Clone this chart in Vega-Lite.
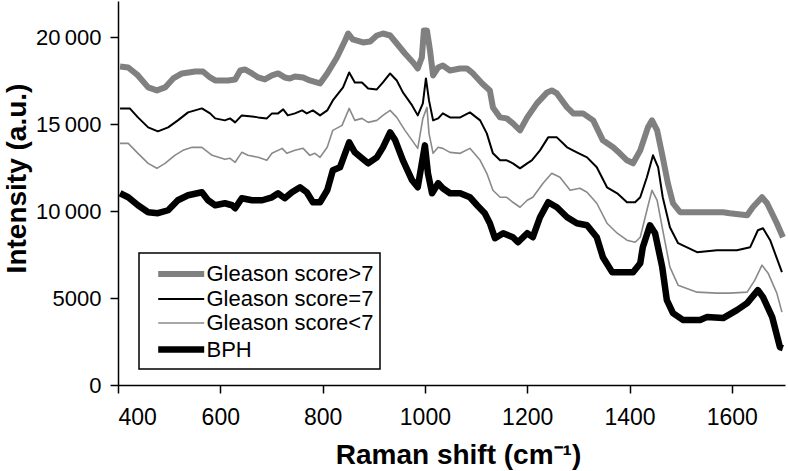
{
  "$schema": "https://vega.github.io/schema/vega-lite/v6.json",
  "width": 667,
  "height": 384,
  "autosize": {"type": "none"},
  "padding": {"left": 118, "top": 1, "right": 3, "bottom": 86},
  "background": "white",
  "config": {
    "view": {"stroke": null},
    "font": "Liberation Sans",
    "axis": {"domainColor": "black", "domainWidth": 1.5, "tickColor": "black", "tickWidth": 1.5, "tickSize": 8, "labelColor": "black", "labelFontSize": 22, "labelFont": "Liberation Sans", "titleFont": "Liberation Sans", "titleFontSize": 28, "titleFontWeight": "bold", "titleColor": "black", "grid": false}
  },
  "data": {"values": [
    {"series":"Gleason score>7","x":404,"y":18330},{"series":"Gleason score>7","x":420,"y":18275},{"series":"Gleason score>7","x":439,"y":17816},{"series":"Gleason score>7","x":459,"y":17126},{"series":"Gleason score>7","x":476,"y":16954},{"series":"Gleason score>7","x":492,"y":17126},{"series":"Gleason score>7","x":508,"y":17643},{"series":"Gleason score>7","x":525,"y":17931},{"series":"Gleason score>7","x":551,"y":18046},{"series":"Gleason score>7","x":566,"y":18046},{"series":"Gleason score>7","x":580,"y":17701},{"series":"Gleason score>7","x":590,"y":17528},{"series":"Gleason score>7","x":615,"y":17528},{"series":"Gleason score>7","x":629,"y":17586},{"series":"Gleason score>7","x":639,"y":18103},{"series":"Gleason score>7","x":648,"y":18160},{"series":"Gleason score>7","x":662,"y":17931},{"series":"Gleason score>7","x":674,"y":17701},{"series":"Gleason score>7","x":687,"y":17586},{"series":"Gleason score>7","x":701,"y":17816},{"series":"Gleason score>7","x":713,"y":17931},{"series":"Gleason score>7","x":726,"y":17701},{"series":"Gleason score>7","x":736,"y":17643},{"series":"Gleason score>7","x":746,"y":17758},{"series":"Gleason score>7","x":762,"y":17701},{"series":"Gleason score>7","x":775,"y":17528},{"series":"Gleason score>7","x":795,"y":17356},{"series":"Gleason score>7","x":809,"y":17931},{"series":"Gleason score>7","x":828,"y":18850},{"series":"Gleason score>7","x":844,"y":19827},{"series":"Gleason score>7","x":850,"y":20229},{"series":"Gleason score>7","x":859,"y":19885},{"series":"Gleason score>7","x":879,"y":19712},{"series":"Gleason score>7","x":893,"y":19770},{"series":"Gleason score>7","x":906,"y":20115},{"series":"Gleason score>7","x":918,"y":20229},{"series":"Gleason score>7","x":932,"y":20115},{"series":"Gleason score>7","x":945,"y":19655},{"series":"Gleason score>7","x":961,"y":19080},{"series":"Gleason score>7","x":977,"y":18563},{"series":"Gleason score>7","x":986,"y":18218},{"series":"Gleason score>7","x":994,"y":18850},{"series":"Gleason score>7","x":998,"y":20402},{"series":"Gleason score>7","x":1004,"y":20402},{"series":"Gleason score>7","x":1010,"y":19252},{"series":"Gleason score>7","x":1016,"y":17816},{"series":"Gleason score>7","x":1026,"y":18275},{"series":"Gleason score>7","x":1035,"y":18390},{"series":"Gleason score>7","x":1049,"y":18103},{"series":"Gleason score>7","x":1069,"y":18218},{"series":"Gleason score>7","x":1082,"y":18218},{"series":"Gleason score>7","x":1094,"y":17931},{"series":"Gleason score>7","x":1112,"y":17356},{"series":"Gleason score>7","x":1127,"y":16954},{"series":"Gleason score>7","x":1133,"y":15977},{"series":"Gleason score>7","x":1147,"y":15402},{"series":"Gleason score>7","x":1160,"y":15345},{"series":"Gleason score>7","x":1172,"y":15057},{"series":"Gleason score>7","x":1186,"y":14655},{"series":"Gleason score>7","x":1200,"y":15402},{"series":"Gleason score>7","x":1219,"y":16207},{"series":"Gleason score>7","x":1239,"y":16839},{"series":"Gleason score>7","x":1248,"y":16954},{"series":"Gleason score>7","x":1258,"y":16782},{"series":"Gleason score>7","x":1278,"y":15977},{"series":"Gleason score>7","x":1290,"y":15632},{"series":"Gleason score>7","x":1309,"y":15632},{"series":"Gleason score>7","x":1329,"y":15230},{"series":"Gleason score>7","x":1348,"y":14080},{"series":"Gleason score>7","x":1368,"y":13678},{"series":"Gleason score>7","x":1381,"y":13333},{"series":"Gleason score>7","x":1395,"y":12931},{"series":"Gleason score>7","x":1407,"y":12758},{"series":"Gleason score>7","x":1421,"y":13505},{"series":"Gleason score>7","x":1436,"y":14827},{"series":"Gleason score>7","x":1444,"y":15230},{"series":"Gleason score>7","x":1454,"y":14655},{"series":"Gleason score>7","x":1465,"y":13103},{"series":"Gleason score>7","x":1475,"y":11609},{"series":"Gleason score>7","x":1485,"y":10460},{"series":"Gleason score>7","x":1499,"y":9942},{"series":"Gleason score>7","x":1532,"y":9942},{"series":"Gleason score>7","x":1583,"y":9942},{"series":"Gleason score>7","x":1596,"y":9885},{"series":"Gleason score>7","x":1630,"y":9770},{"series":"Gleason score>7","x":1641,"y":10230},{"series":"Gleason score>7","x":1659,"y":10804},{"series":"Gleason score>7","x":1669,"y":10460},{"series":"Gleason score>7","x":1688,"y":9310},{"series":"Gleason score>7","x":1700,"y":8506},

    {"series":"Gleason score=7","x":404,"y":15919},{"series":"Gleason score=7","x":423,"y":15919},{"series":"Gleason score=7","x":439,"y":15402},{"series":"Gleason score=7","x":459,"y":14827},{"series":"Gleason score=7","x":478,"y":14597},{"series":"Gleason score=7","x":498,"y":14827},{"series":"Gleason score=7","x":517,"y":15230},{"series":"Gleason score=7","x":537,"y":15689},{"series":"Gleason score=7","x":564,"y":15919},{"series":"Gleason score=7","x":580,"y":15632},{"series":"Gleason score=7","x":590,"y":15344},{"series":"Gleason score=7","x":609,"y":15230},{"series":"Gleason score=7","x":619,"y":15344},{"series":"Gleason score=7","x":629,"y":15115},{"series":"Gleason score=7","x":642,"y":15517},{"series":"Gleason score=7","x":662,"y":15459},{"series":"Gleason score=7","x":674,"y":15402},{"series":"Gleason score=7","x":691,"y":15344},{"series":"Gleason score=7","x":701,"y":15632},{"series":"Gleason score=7","x":713,"y":15632},{"series":"Gleason score=7","x":723,"y":15862},{"series":"Gleason score=7","x":732,"y":15517},{"series":"Gleason score=7","x":746,"y":15632},{"series":"Gleason score=7","x":760,"y":15804},{"series":"Gleason score=7","x":769,"y":15632},{"series":"Gleason score=7","x":781,"y":15804},{"series":"Gleason score=7","x":795,"y":15517},{"series":"Gleason score=7","x":809,"y":15804},{"series":"Gleason score=7","x":820,"y":16379},{"series":"Gleason score=7","x":840,"y":17126},{"series":"Gleason score=7","x":852,"y":17988},{"series":"Gleason score=7","x":863,"y":17413},{"series":"Gleason score=7","x":877,"y":17413},{"series":"Gleason score=7","x":889,"y":17068},{"series":"Gleason score=7","x":906,"y":17011},{"series":"Gleason score=7","x":918,"y":17413},{"series":"Gleason score=7","x":932,"y":17931},{"series":"Gleason score=7","x":945,"y":17528},{"series":"Gleason score=7","x":957,"y":16839},{"series":"Gleason score=7","x":975,"y":16092},{"series":"Gleason score=7","x":986,"y":15517},{"series":"Gleason score=7","x":996,"y":16207},{"series":"Gleason score=7","x":1002,"y":17643},{"series":"Gleason score=7","x":1008,"y":16379},{"series":"Gleason score=7","x":1016,"y":15230},{"series":"Gleason score=7","x":1026,"y":15344},{"series":"Gleason score=7","x":1035,"y":15632},{"series":"Gleason score=7","x":1049,"y":15402},{"series":"Gleason score=7","x":1069,"y":15402},{"series":"Gleason score=7","x":1088,"y":15689},{"series":"Gleason score=7","x":1108,"y":15230},{"series":"Gleason score=7","x":1121,"y":14482},{"series":"Gleason score=7","x":1133,"y":13333},{"series":"Gleason score=7","x":1147,"y":12931},{"series":"Gleason score=7","x":1160,"y":12931},{"series":"Gleason score=7","x":1172,"y":12758},{"series":"Gleason score=7","x":1186,"y":12471},{"series":"Gleason score=7","x":1200,"y":12758},{"series":"Gleason score=7","x":1209,"y":12931},{"series":"Gleason score=7","x":1225,"y":13505},{"series":"Gleason score=7","x":1241,"y":14253},{"series":"Gleason score=7","x":1258,"y":14253},{"series":"Gleason score=7","x":1278,"y":13678},{"series":"Gleason score=7","x":1297,"y":13390},{"series":"Gleason score=7","x":1317,"y":13103},{"series":"Gleason score=7","x":1336,"y":12528},{"series":"Gleason score=7","x":1356,"y":11379},{"series":"Gleason score=7","x":1376,"y":11034},{"series":"Gleason score=7","x":1395,"y":10517},{"series":"Gleason score=7","x":1411,"y":10517},{"series":"Gleason score=7","x":1421,"y":10804},{"series":"Gleason score=7","x":1434,"y":11954},{"series":"Gleason score=7","x":1446,"y":13218},{"series":"Gleason score=7","x":1456,"y":12528},{"series":"Gleason score=7","x":1465,"y":10804},{"series":"Gleason score=7","x":1479,"y":9080},{"series":"Gleason score=7","x":1495,"y":8161},{"series":"Gleason score=7","x":1532,"y":7644},{"series":"Gleason score=7","x":1571,"y":7758},{"series":"Gleason score=7","x":1610,"y":7758},{"series":"Gleason score=7","x":1636,"y":7931},{"series":"Gleason score=7","x":1651,"y":8908},{"series":"Gleason score=7","x":1661,"y":9023},{"series":"Gleason score=7","x":1675,"y":8333},{"series":"Gleason score=7","x":1698,"y":6494},

    {"series":"Gleason score<7","x":404,"y":13908},{"series":"Gleason score<7","x":420,"y":13908},{"series":"Gleason score<7","x":439,"y":13333},{"series":"Gleason score<7","x":459,"y":12758},{"series":"Gleason score<7","x":476,"y":12471},{"series":"Gleason score<7","x":492,"y":12758},{"series":"Gleason score<7","x":511,"y":13218},{"series":"Gleason score<7","x":527,"y":13505},{"series":"Gleason score<7","x":545,"y":13678},{"series":"Gleason score<7","x":564,"y":13678},{"series":"Gleason score<7","x":584,"y":13218},{"series":"Gleason score<7","x":609,"y":12988},{"series":"Gleason score<7","x":619,"y":13046},{"series":"Gleason score<7","x":629,"y":12816},{"series":"Gleason score<7","x":642,"y":13390},{"series":"Gleason score<7","x":654,"y":13218},{"series":"Gleason score<7","x":674,"y":13103},{"series":"Gleason score<7","x":691,"y":12931},{"series":"Gleason score<7","x":701,"y":13333},{"series":"Gleason score<7","x":721,"y":13620},{"series":"Gleason score<7","x":730,"y":13333},{"series":"Gleason score<7","x":746,"y":13505},{"series":"Gleason score<7","x":762,"y":13620},{"series":"Gleason score<7","x":775,"y":13218},{"series":"Gleason score<7","x":785,"y":13333},{"series":"Gleason score<7","x":795,"y":13103},{"series":"Gleason score<7","x":809,"y":13678},{"series":"Gleason score<7","x":820,"y":14655},{"series":"Gleason score<7","x":838,"y":14942},{"series":"Gleason score<7","x":852,"y":15919},{"series":"Gleason score<7","x":863,"y":15230},{"series":"Gleason score<7","x":877,"y":15344},{"series":"Gleason score<7","x":889,"y":15115},{"series":"Gleason score<7","x":906,"y":15230},{"series":"Gleason score<7","x":918,"y":15517},{"series":"Gleason score<7","x":932,"y":15804},{"series":"Gleason score<7","x":945,"y":15402},{"series":"Gleason score<7","x":961,"y":14655},{"series":"Gleason score<7","x":975,"y":14080},{"series":"Gleason score<7","x":986,"y":13620},{"series":"Gleason score<7","x":996,"y":15344},{"series":"Gleason score<7","x":1004,"y":15977},{"series":"Gleason score<7","x":1008,"y":14482},{"series":"Gleason score<7","x":1016,"y":13333},{"series":"Gleason score<7","x":1026,"y":13678},{"series":"Gleason score<7","x":1035,"y":13620},{"series":"Gleason score<7","x":1049,"y":13390},{"series":"Gleason score<7","x":1069,"y":13333},{"series":"Gleason score<7","x":1088,"y":13620},{"series":"Gleason score<7","x":1108,"y":12931},{"series":"Gleason score<7","x":1121,"y":12184},{"series":"Gleason score<7","x":1133,"y":11207},{"series":"Gleason score<7","x":1147,"y":10804},{"series":"Gleason score<7","x":1160,"y":10804},{"series":"Gleason score<7","x":1172,"y":10517},{"series":"Gleason score<7","x":1186,"y":10230},{"series":"Gleason score<7","x":1200,"y":10632},{"series":"Gleason score<7","x":1211,"y":10804},{"series":"Gleason score<7","x":1231,"y":11609},{"series":"Gleason score<7","x":1248,"y":12184},{"series":"Gleason score<7","x":1264,"y":11954},{"series":"Gleason score<7","x":1284,"y":11207},{"series":"Gleason score<7","x":1303,"y":11322},{"series":"Gleason score<7","x":1317,"y":11092},{"series":"Gleason score<7","x":1336,"y":10460},{"series":"Gleason score<7","x":1356,"y":9310},{"series":"Gleason score<7","x":1376,"y":8735},{"series":"Gleason score<7","x":1395,"y":8333},{"series":"Gleason score<7","x":1411,"y":8218},{"series":"Gleason score<7","x":1421,"y":8506},{"series":"Gleason score<7","x":1434,"y":10057},{"series":"Gleason score<7","x":1444,"y":11207},{"series":"Gleason score<7","x":1454,"y":10632},{"series":"Gleason score<7","x":1465,"y":8908},{"series":"Gleason score<7","x":1479,"y":6781},{"series":"Gleason score<7","x":1495,"y":5747},{"series":"Gleason score<7","x":1532,"y":5345},{"series":"Gleason score<7","x":1571,"y":5287},{"series":"Gleason score<7","x":1596,"y":5287},{"series":"Gleason score<7","x":1630,"y":5345},{"series":"Gleason score<7","x":1645,"y":6034},{"series":"Gleason score<7","x":1659,"y":6896},{"series":"Gleason score<7","x":1671,"y":6437},{"series":"Gleason score<7","x":1688,"y":5287},{"series":"Gleason score<7","x":1698,"y":4195},

    {"series":"BPH","x":404,"y":11034},{"series":"BPH","x":420,"y":10804},{"series":"BPH","x":439,"y":10345},{"series":"BPH","x":459,"y":9942},{"series":"BPH","x":478,"y":9885},{"series":"BPH","x":498,"y":10057},{"series":"BPH","x":517,"y":10632},{"series":"BPH","x":537,"y":10919},{"series":"BPH","x":564,"y":11092},{"series":"BPH","x":576,"y":10632},{"series":"BPH","x":590,"y":10345},{"series":"BPH","x":609,"y":10460},{"series":"BPH","x":623,"y":10345},{"series":"BPH","x":629,"y":10172},{"series":"BPH","x":642,"y":10747},{"series":"BPH","x":662,"y":10632},{"series":"BPH","x":682,"y":10632},{"series":"BPH","x":701,"y":10804},{"series":"BPH","x":713,"y":11034},{"series":"BPH","x":726,"y":10747},{"series":"BPH","x":740,"y":11092},{"series":"BPH","x":756,"y":11379},{"series":"BPH","x":769,"y":11092},{"series":"BPH","x":781,"y":10517},{"series":"BPH","x":795,"y":10517},{"series":"BPH","x":809,"y":11207},{"series":"BPH","x":820,"y":12356},{"series":"BPH","x":834,"y":12528},{"series":"BPH","x":844,"y":13333},{"series":"BPH","x":852,"y":13965},{"series":"BPH","x":863,"y":13390},{"series":"BPH","x":877,"y":13046},{"series":"BPH","x":889,"y":12758},{"series":"BPH","x":906,"y":13103},{"series":"BPH","x":918,"y":13678},{"series":"BPH","x":932,"y":14540},{"series":"BPH","x":942,"y":14080},{"series":"BPH","x":957,"y":12931},{"series":"BPH","x":975,"y":11781},{"series":"BPH","x":986,"y":11379},{"series":"BPH","x":994,"y":12758},{"series":"BPH","x":1000,"y":13793},{"series":"BPH","x":1006,"y":12184},{"series":"BPH","x":1014,"y":11034},{"series":"BPH","x":1026,"y":11609},{"series":"BPH","x":1035,"y":11322},{"series":"BPH","x":1049,"y":11034},{"series":"BPH","x":1069,"y":11034},{"series":"BPH","x":1088,"y":10804},{"series":"BPH","x":1102,"y":10345},{"series":"BPH","x":1117,"y":9885},{"series":"BPH","x":1127,"y":9310},{"series":"BPH","x":1137,"y":8448},{"series":"BPH","x":1153,"y":8735},{"series":"BPH","x":1172,"y":8506},{"series":"BPH","x":1182,"y":8218},{"series":"BPH","x":1200,"y":8735},{"series":"BPH","x":1211,"y":8506},{"series":"BPH","x":1225,"y":9655},{"series":"BPH","x":1241,"y":10517},{"series":"BPH","x":1258,"y":10230},{"series":"BPH","x":1278,"y":9655},{"series":"BPH","x":1297,"y":9310},{"series":"BPH","x":1317,"y":9195},{"series":"BPH","x":1336,"y":8506},{"series":"BPH","x":1348,"y":7356},{"series":"BPH","x":1366,"y":6494},{"series":"BPH","x":1387,"y":6494},{"series":"BPH","x":1407,"y":6494},{"series":"BPH","x":1421,"y":7011},{"series":"BPH","x":1426,"y":7931},{"series":"BPH","x":1440,"y":9195},{"series":"BPH","x":1450,"y":8735},{"series":"BPH","x":1464,"y":6781},{"series":"BPH","x":1473,"y":4885},{"series":"BPH","x":1485,"y":4138},{"series":"BPH","x":1505,"y":3736},{"series":"BPH","x":1538,"y":3736},{"series":"BPH","x":1551,"y":3908},{"series":"BPH","x":1583,"y":3850},{"series":"BPH","x":1610,"y":4310},{"series":"BPH","x":1630,"y":4713},{"series":"BPH","x":1651,"y":5460},{"series":"BPH","x":1661,"y":5057},{"series":"BPH","x":1679,"y":3908},{"series":"BPH","x":1694,"y":2184},{"series":"BPH","x":1700,"y":2126}
  ]},
  "mark": {"type": "line", "strokeJoin": "round", "strokeCap": "butt"},
  "encoding": {
    "x": {"field": "x", "type": "quantitative",
      "scale": {"domain": [400, 1704], "nice": false, "zero": false},
      "axis": {"values": [400, 600, 800, 1000, 1200, 1400, 1600], "format": "d", "labelPadding": 13, "labelFontSize": 23,
        "title": "Raman shift (cm\u207b\u00b9)", "titleX": 340, "titleY": 70, "titleBaseline": "middle"}},
    "y": {"field": "y", "type": "quantitative",
      "scale": {"domain": [0, 22100], "nice": false},
      "axis": {"values": [0, 5000, 10000, 15000, 20000], "labelPadding": 9,
        "labelExpr": "datum.value >= 10000 ? floor(datum.value/1000) + '\u2009000' : format(datum.value, 'd')",
        "title": "Intensity (a.u.)", "titleX": -101, "titleY": 177, "titleBaseline": "middle", "titleAngle": 270}},
    "color": {"field": "series", "type": "nominal",
      "scale": {"domain": ["Gleason score>7", "Gleason score=7", "Gleason score<7", "BPH"], "range": ["#808080", "#000000", "#8a8a8a", "#000000"]},
      "legend": {"title": null, "orient": "none", "legendX": 21, "legendY": 252,
        "strokeColor": "black", "fillColor": "white", "padding": 6.5, "rowPadding": 0,
        "labelFontSize": 22, "labelColor": "black", "labelFont": "Liberation Sans", "labelOffset": 31, "labelLimit": 400,
        "labelExpr": "datum.label + '\u00a0\u00a0\u00a0\u00a0'",
        "symbolType": "M-0.2,0H3.8", "symbolSize": 529,
        "encode": {"legend": {"update": {"strokeWidth": {"value": 1.5}}}}}},
    "strokeWidth": {"field": "series", "type": "nominal",
      "scale": {"type": "ordinal", "domain": ["Gleason score>7", "Gleason score=7", "Gleason score<7", "BPH"], "range": [6, 2, 1.6, 6.5]},
      "legend": null},
    "order": {"field": "x", "type": "quantitative"}
  }
}
